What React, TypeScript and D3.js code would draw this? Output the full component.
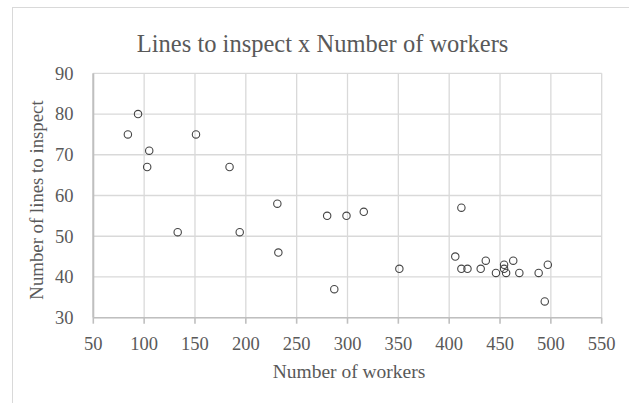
import React from "react";
import * as d3 from "d3";

const workers: number[] = [84, 94, 105, 103, 151, 184, 231, 133, 194, 232, 280, 299, 316, 412, 351, 287, 406, 412, 418, 431, 436, 446, 454, 454, 456, 463, 469, 488, 497, 494];
const lines: number[] = [75, 80, 71, 67, 75, 67, 58, 51, 51, 46, 55, 55, 56, 57, 42, 37, 45, 42, 42, 42, 44, 41, 43, 42, 41, 44, 41, 41, 43, 34];
const xTicks: number[] = [50, 100, 150, 200, 250, 300, 350, 400, 450, 500, 550];
const yTicks: number[] = [30, 40, 50, 60, 70, 80, 90];
const title = "Lines to inspect x Number of workers";
const xTitle = "Number of workers";
const yTitle = "Number of lines to inspect";

const W = 629;
const H = 403;
const FONT = "'Liberation Serif', 'DejaVu Serif', serif";
const TEXT = "#595959";

export default function App() {
  const x = d3.scaleLinear().domain([50, 550]).range([93.3, 601.7]);
  const y = d3.scaleLinear().domain([30, 90]).range([317.7, 73.3]);
  const pts = workers.map((w, i) => ({ w, l: lines[i] }));
  return (
    <svg width={W} height={H} style={{ position: "absolute", left: 0, top: 0, background: "#fff" }}>
      <rect x={12.5} y={7.5} width={W + 20} height={H + 20} fill="#fff" stroke="#d9d9d9" strokeWidth={1} />
      <text x={322.6} y={52.3} textAnchor="middle" fontFamily={FONT} fontSize={24.5} fill={TEXT}>{title}</text>
      {xTicks.map((t) => (
        <line key={"gx" + t} x1={x(t)} x2={x(t)} y1={y(90)} y2={y(30)} stroke="#d9d9d9" strokeWidth={1.3} />
      ))}
      {yTicks.map((t) => (
        <line key={"gy" + t} x1={x(50)} x2={x(550)} y1={y(t)} y2={y(t)} stroke="#d9d9d9" strokeWidth={1.3} />
      ))}
      <line x1={x(50)} x2={x(550)} y1={y(30)} y2={y(30)} stroke="#bfbfbf" strokeWidth={1.6} />
      {xTicks.map((t) => (
        <line key={"tx" + t} x1={x(t)} x2={x(t)} y1={y(30)} y2={y(30) + 6} stroke="#bfbfbf" strokeWidth={1.6} />
      ))}
      <line x1={x(50)} x2={x(50)} y1={y(90)} y2={y(30)} stroke="#bfbfbf" strokeWidth={2} />
      {xTicks.map((t) => (
        <text key={"lx" + t} x={x(t)} y={350.3} textAnchor="middle" fontFamily={FONT} fontSize={18.5} fill={TEXT}>{t}</text>
      ))}
      {yTicks.map((t) => (
        <text key={"ly" + t} x={73.5} y={y(t)} dy="0.34em" textAnchor="end" fontFamily={FONT} fontSize={18.5} fill={TEXT}>{t}</text>
      ))}
      <text x={349} y={378.3} textAnchor="middle" fontFamily={FONT} fontSize={19.5} fill={TEXT}>{xTitle}</text>
      <text transform={`translate(43,200) rotate(-90)`} textAnchor="middle" fontFamily={FONT} fontSize={18.8} fill={TEXT}>{yTitle}</text>
      {pts.map((p, i) => (
        <circle key={i} cx={x(p.w)} cy={y(p.l)} r={3.7} fill="none" stroke="#454545" strokeWidth={1.1} />
      ))}
    </svg>
  );
}
